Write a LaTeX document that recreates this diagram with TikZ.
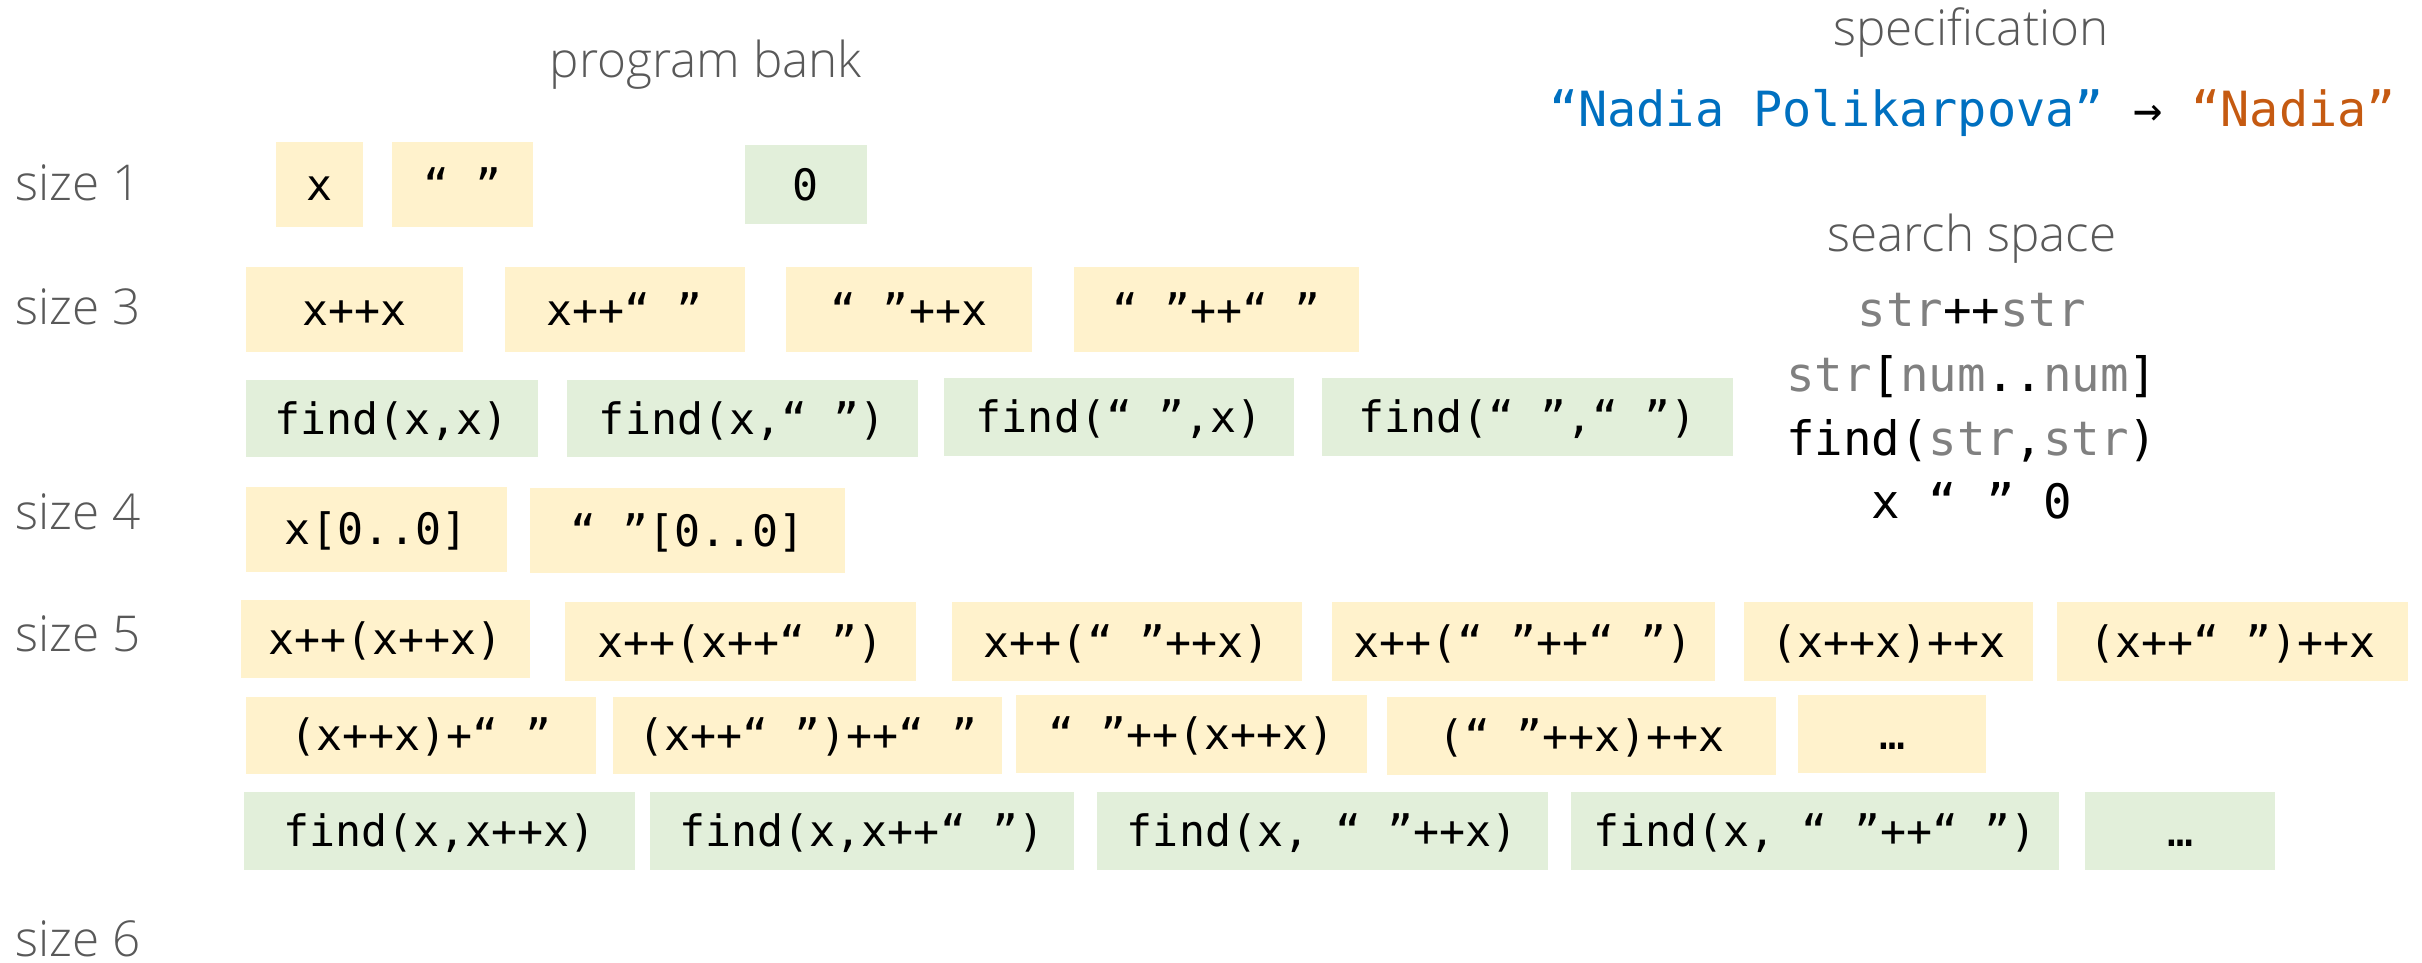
\documentclass[tikz,border=0pt]{standalone}
\usepackage{fontspec}
\setmainfont{Open Sans}
\newfontfamily\lblfont{Open Sans Light}
\newfontfamily\codefont{DejaVu Sans Mono}
\definecolor{ybg}{HTML}{FFF2CC}
\definecolor{gbg}{HTML}{E2EFDA}
\definecolor{lblgray}{HTML}{595959}
\definecolor{specblue}{HTML}{0070C0}
\definecolor{specorange}{HTML}{C55A11}
\definecolor{strgray}{HTML}{808080}
\newcommand\bx[7]{\node[#2,anchor=north west,minimum width={#5pt-#3pt},minimum height={#6pt-#4pt}] (#1) at (#3,#4) {#7};}
\tikzset{
  codebox/.style={inner sep=0pt, outer sep=0pt, font=\codefont\fontsize{28}{34}\selectfont, text height=20pt, text depth=0pt},
  ybox/.style={codebox, fill=ybg},
  gbox/.style={codebox, fill=gbg},
  lbl/.style={font=\lblfont\fontsize{32}{38}\selectfont, text=lblgray, inner sep=0pt},
  spacetxt/.style={font=\codefont\fontsize{30.7}{36}\selectfont, inner sep=0pt, anchor=base},
}
\begin{document}
\begin{tikzpicture}[x=1pt,y=-1pt]
\useasboundingbox (0,0) rectangle (1568,623);
% labels
\node[lbl, anchor=base] (pb) at (457,50) {program bank};
\node[lbl, anchor=base] (spc) at (1276,29.6) {specification};
\node[lbl, anchor=base] (ss) at (1276.5,163) {search space};
\node[lbl, anchor=base west] (s1) at (10,129.5) {size 1};
\node[lbl, anchor=base west] (s3) at (10,210.4) {size 3};
\node[lbl, anchor=base west] (s4) at (10,343) {size 4};
\node[lbl, anchor=base west] (s5) at (10,422) {size 5};
\node[lbl, anchor=base west] (s6) at (10,619.4) {size 6};
% specification
\node[font=\codefont\fontsize{31.4}{36}\selectfont, inner sep=0pt, anchor=base] (spec) at (1277,82)
  {\textcolor{specblue}{“Nadia Polikarpova”} → \textcolor{specorange}{“Nadia”}};
% search space
\node[spacetxt] (g1) at (1276.5,211.6) {\textcolor{strgray}{str}++\textcolor{strgray}{str}};
\node[spacetxt] (g2) at (1276.5,253.2) {\textcolor{strgray}{str}[\textcolor{strgray}{num}..\textcolor{strgray}{num}]};
\node[spacetxt] (g3) at (1276.5,294.8) {find(\textcolor{strgray}{str},\textcolor{strgray}{str})};
\node[spacetxt] (g4) at (1276.5,335.7) {x “ ” 0};
% size 1
\bx{a1}{ybox}{179}{92}{235}{147}{x}
\bx{a2}{ybox}{254}{92}{345}{147}{“ ”}
\bx{a3}{gbox}{482}{94}{561}{145}{0}
% size 3
\bx{b1}{ybox}{159}{173}{300}{228}{x++x}
\bx{b2}{ybox}{327}{173}{482}{228}{x++“ ”}
\bx{b3}{ybox}{509}{173}{668}{228}{“ ”++x}
\bx{b4}{ybox}{695}{173}{880}{228}{“ ”++“ ”}
\bx{c1}{gbox}{159}{246}{348}{296}{find(x,x)}
\bx{c2}{gbox}{367}{246}{594}{296}{find(x,“ ”)}
\bx{c3}{gbox}{611}{245}{838}{295}{find(“ ”,x)}
\bx{c4}{gbox}{856}{245}{1122}{295}{find(“ ”,“ ”)}
% size 4
\bx{d1}{ybox}{159}{315}{328}{370}{x[0..0]}
\bx{d2}{ybox}{343}{316}{547}{371}{“ ”[0..0]}
% size 5 row 1
\bx{e1}{ybox}{156}{388.5}{343}{439}{x++(x++x)}
\bx{e2}{ybox}{366}{390}{593}{441}{x++(x++“ ”)}
\bx{e3}{ybox}{616}{390}{843}{441}{x++(“ ”++x)}
\bx{e4}{ybox}{862}{390}{1110}{441}{x++(“ ”++“ ”)}
\bx{e5}{ybox}{1129}{390}{1316}{441}{(x++x)++x}
\bx{e6}{ybox}{1332}{390}{1559}{441}{(x++“ ”)++x}
% size 5 row 2
\bx{f1}{ybox}{159}{451}{386}{501}{(x++x)+“ ”}
\bx{f2}{ybox}{397}{451}{649}{501}{(x++“ ”)++“ ”}
\bx{f3}{ybox}{658}{450}{885}{500.5}{“ ”++(x++x)}
\bx{f4}{ybox}{898}{451}{1150}{502}{(“ ”++x)++x}
\bx{f5}{ybox}{1164}{450}{1286}{500.5}{…}
% size 5 row 3
\bx{h1}{gbox}{158}{513}{411}{563}{find(x,x++x)}
\bx{h2}{gbox}{421}{513}{695}{563}{find(x,x++“ ”)}
\bx{h3}{gbox}{710}{513}{1002}{563}{find(x, “ ”++x)}
\bx{h4}{gbox}{1017}{513}{1333}{563}{find(x, “ ”++“ ”)}
\bx{h5}{gbox}{1350}{513}{1473}{563}{…}
\end{tikzpicture}
\end{document}
